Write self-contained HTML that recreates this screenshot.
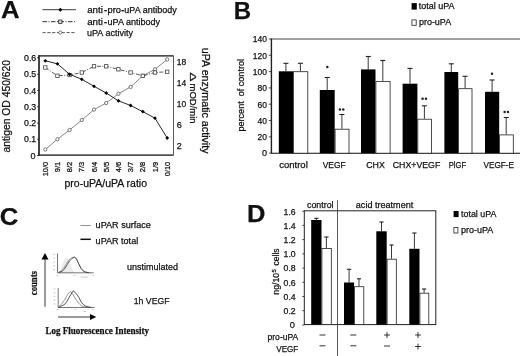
<!DOCTYPE html>
<html>
<head>
<meta charset="utf-8">
<title>Figure</title>
<style>
html,body{margin:0;padding:0;background:#fff;}
body{width:520px;height:356px;overflow:hidden;font-family:"Liberation Sans",sans-serif;}
svg{display:block;filter:blur(0.35px);}
svg text{font-family:"Liberation Sans",sans-serif;fill:#111;stroke:#111;stroke-width:0.25px;}
</style>
</head>
<body>
<svg width="520" height="356" viewBox="0 0 520 356">
<rect x="0" y="0" width="520" height="356" fill="#fff"/>
<!-- Panel A -->
<text x="1.0" y="18.3" font-size="24" textLength="18.6" lengthAdjust="spacingAndGlyphs" font-weight="bold" fill="#000">A</text>
<line x1="42.5" y1="9.7" x2="76" y2="9.7" stroke="#222" stroke-width="0.9"/>
<path d="M60.3 7.7 L62.3 9.7 L60.3 11.7 L58.3 9.7 Z" fill="#000"/>
<line x1="42.5" y1="21.7" x2="76" y2="21.7" stroke="#333" stroke-width="1" stroke-dasharray="4.5 1.5 1 1.5"/>
<rect x="58.6" y="20" width="3.4" height="3.4" fill="#ccc" stroke="#333" stroke-width="0.8"/>
<line x1="42.5" y1="32.6" x2="76" y2="32.6" stroke="#444" stroke-width="0.9" stroke-dasharray="3.2 1.6"/>
<circle cx="60.3" cy="32.6" r="1.6" fill="#fff" stroke="#444" stroke-width="0.7"/>
<text y="12.9" font-size="9.2"><tspan x="87.2" textLength="15.7" lengthAdjust="spacingAndGlyphs">anti</tspan><tspan x="104.1" font-weight="bold">-</tspan><tspan x="107.5" textLength="13.4" lengthAdjust="spacingAndGlyphs">pro</tspan><tspan x="121.2" font-weight="bold">-</tspan><tspan x="124.3" textLength="52.4" lengthAdjust="spacingAndGlyphs">uPA antibody</tspan></text>
<text y="24.6" font-size="9.2"><tspan x="87.2" textLength="15.7" lengthAdjust="spacingAndGlyphs">anti</tspan><tspan x="104.1" font-weight="bold">-</tspan><tspan x="107.5" textLength="52.6" lengthAdjust="spacingAndGlyphs">uPA antibody</tspan></text>
<text x="87" y="35.7" font-size="9.3" textLength="46" lengthAdjust="spacingAndGlyphs">uPA activity</text>
<rect x="39" y="55.9" width="134.4" height="99.19999999999999" fill="none" stroke="#333" stroke-width="0.8"/>
<line x1="39" y1="55.3" x2="39" y2="155.7" stroke="#222" stroke-width="1.5"/>
<line x1="38.1" y1="55.9" x2="173.4" y2="55.9" stroke="#222" stroke-width="1.0"/>
<line x1="38.1" y1="155.1" x2="173.4" y2="155.1" stroke="#222" stroke-width="1.0"/>
<line x1="37" y1="57.9" x2="39" y2="57.9" stroke="#222" stroke-width="0.8"/>
<text x="24.0" y="61.1" font-size="9" textLength="12.2" lengthAdjust="spacingAndGlyphs">0.6</text>
<line x1="37" y1="74.2" x2="39" y2="74.2" stroke="#222" stroke-width="0.8"/>
<text x="24.0" y="77.4" font-size="9" textLength="12.2" lengthAdjust="spacingAndGlyphs">0.5</text>
<line x1="37" y1="90.4" x2="39" y2="90.4" stroke="#222" stroke-width="0.8"/>
<text x="24.0" y="93.6" font-size="9" textLength="12.2" lengthAdjust="spacingAndGlyphs">0.4</text>
<line x1="37" y1="106.7" x2="39" y2="106.7" stroke="#222" stroke-width="0.8"/>
<text x="24.0" y="109.9" font-size="9" textLength="12.2" lengthAdjust="spacingAndGlyphs">0.3</text>
<line x1="37" y1="123.0" x2="39" y2="123.0" stroke="#222" stroke-width="0.8"/>
<text x="24.0" y="126.2" font-size="9" textLength="12.2" lengthAdjust="spacingAndGlyphs">0.2</text>
<line x1="37" y1="139.2" x2="39" y2="139.2" stroke="#222" stroke-width="0.8"/>
<text x="24.0" y="142.4" font-size="9" textLength="12.2" lengthAdjust="spacingAndGlyphs">0.1</text>
<line x1="37" y1="155.5" x2="39" y2="155.5" stroke="#222" stroke-width="0.8"/>
<text x="35.6" y="158.7" font-size="9" text-anchor="end">0</text>
<text x="176.8" y="65.3" font-size="9" textLength="9.4" lengthAdjust="spacingAndGlyphs">18</text>
<text x="176.8" y="86.3" font-size="9" textLength="9.4" lengthAdjust="spacingAndGlyphs">14</text>
<text x="176.8" y="107.3" font-size="9" textLength="9.4" lengthAdjust="spacingAndGlyphs">10</text>
<text x="176.8" y="128.2" font-size="9">6</text>
<text x="176.8" y="149.2" font-size="9">2</text>
<polyline fill="none" stroke="#555" stroke-width="0.7" points="45.3,149.5 57.4,139.2 69.6,130 81.8,120 94,109.6 106.2,103 118.4,93.8 130.6,86.9 142.8,75.8 155,69.3 167.2,59.5"/>
<circle cx="45.3" cy="149.5" r="1.65" fill="#fff" stroke="#444" stroke-width="0.7"/>
<circle cx="57.4" cy="139.2" r="1.65" fill="#fff" stroke="#444" stroke-width="0.7"/>
<circle cx="69.6" cy="130" r="1.65" fill="#fff" stroke="#444" stroke-width="0.7"/>
<circle cx="81.8" cy="120" r="1.65" fill="#fff" stroke="#444" stroke-width="0.7"/>
<circle cx="94" cy="109.6" r="1.65" fill="#fff" stroke="#444" stroke-width="0.7"/>
<circle cx="106.2" cy="103" r="1.65" fill="#fff" stroke="#444" stroke-width="0.7"/>
<circle cx="118.4" cy="93.8" r="1.65" fill="#fff" stroke="#444" stroke-width="0.7"/>
<circle cx="130.6" cy="86.9" r="1.65" fill="#fff" stroke="#444" stroke-width="0.7"/>
<circle cx="142.8" cy="75.8" r="1.65" fill="#fff" stroke="#444" stroke-width="0.7"/>
<circle cx="155" cy="69.3" r="1.65" fill="#fff" stroke="#444" stroke-width="0.7"/>
<circle cx="167.2" cy="59.5" r="1.65" fill="#fff" stroke="#444" stroke-width="0.7"/>
<polyline fill="none" stroke="#444" stroke-width="0.9" stroke-dasharray="4 1.5 1 1.5" points="45.3,67.5 57.4,75.8 69.6,75 81.8,72.5 94,66.3 106.2,66.3 118.4,69.3 130.6,72.5 142.8,75.8 155,72.5 167.2,71.8"/>
<rect x="43.6" y="65.8" width="3.4" height="3.4" fill="#fff" stroke="#444" stroke-width="0.8"/>
<rect x="55.7" y="74.1" width="3.4" height="3.4" fill="#fff" stroke="#444" stroke-width="0.8"/>
<rect x="67.9" y="73.3" width="3.4" height="3.4" fill="#fff" stroke="#444" stroke-width="0.8"/>
<rect x="80.1" y="70.8" width="3.4" height="3.4" fill="#fff" stroke="#444" stroke-width="0.8"/>
<rect x="92.3" y="64.6" width="3.4" height="3.4" fill="#fff" stroke="#444" stroke-width="0.8"/>
<rect x="104.5" y="64.6" width="3.4" height="3.4" fill="#fff" stroke="#444" stroke-width="0.8"/>
<rect x="116.7" y="67.6" width="3.4" height="3.4" fill="#fff" stroke="#444" stroke-width="0.8"/>
<rect x="128.9" y="70.8" width="3.4" height="3.4" fill="#fff" stroke="#444" stroke-width="0.8"/>
<rect x="141.1" y="74.1" width="3.4" height="3.4" fill="#fff" stroke="#444" stroke-width="0.8"/>
<rect x="153.3" y="70.8" width="3.4" height="3.4" fill="#fff" stroke="#444" stroke-width="0.8"/>
<rect x="165.5" y="70.1" width="3.4" height="3.4" fill="#fff" stroke="#444" stroke-width="0.8"/>
<polyline fill="none" stroke="#111" stroke-width="0.9" points="45.3,60.8 57.4,63.8 69.6,74.3 81.8,79.3 94,86.3 106.2,93 118.4,100.8 130.6,105.5 142.8,111.6 155,118.2 167.2,138"/>
<path d="M45.3 58.9 L47.2 60.8 L45.3 62.7 L43.4 60.8 Z" fill="#000"/>
<path d="M57.4 61.9 L59.3 63.8 L57.4 65.7 L55.5 63.8 Z" fill="#000"/>
<path d="M69.6 72.4 L71.5 74.3 L69.6 76.2 L67.7 74.3 Z" fill="#000"/>
<path d="M81.8 77.4 L83.7 79.3 L81.8 81.2 L79.9 79.3 Z" fill="#000"/>
<path d="M94 84.4 L95.9 86.3 L94 88.2 L92.1 86.3 Z" fill="#000"/>
<path d="M106.2 91.1 L108.1 93 L106.2 94.9 L104.3 93 Z" fill="#000"/>
<path d="M118.4 98.9 L120.3 100.8 L118.4 102.7 L116.5 100.8 Z" fill="#000"/>
<path d="M130.6 103.6 L132.5 105.5 L130.6 107.4 L128.7 105.5 Z" fill="#000"/>
<path d="M142.8 109.7 L144.7 111.6 L142.8 113.5 L140.9 111.6 Z" fill="#000"/>
<path d="M155 116.3 L156.9 118.2 L155 120.1 L153.1 118.2 Z" fill="#000"/>
<path d="M167.2 136.1 L169.1 138 L167.2 139.9 L165.3 138 Z" fill="#000"/>
<text x="47.9" y="161.8" font-size="7.5" text-anchor="end" textLength="14.5" lengthAdjust="spacingAndGlyphs" transform="rotate(-90 47.9 161.8)">10/0</text>
<text x="60.0" y="161.8" font-size="7.5" text-anchor="end" textLength="10.5" lengthAdjust="spacingAndGlyphs" transform="rotate(-90 60.0 161.8)">9/1</text>
<text x="72.2" y="161.8" font-size="7.5" text-anchor="end" textLength="10.5" lengthAdjust="spacingAndGlyphs" transform="rotate(-90 72.2 161.8)">8/2</text>
<text x="84.4" y="161.8" font-size="7.5" text-anchor="end" textLength="10.5" lengthAdjust="spacingAndGlyphs" transform="rotate(-90 84.4 161.8)">7/3</text>
<text x="96.6" y="161.8" font-size="7.5" text-anchor="end" textLength="10.5" lengthAdjust="spacingAndGlyphs" transform="rotate(-90 96.6 161.8)">6/4</text>
<text x="108.8" y="161.8" font-size="7.5" text-anchor="end" textLength="10.5" lengthAdjust="spacingAndGlyphs" transform="rotate(-90 108.8 161.8)">5/5</text>
<text x="121.0" y="161.8" font-size="7.5" text-anchor="end" textLength="10.5" lengthAdjust="spacingAndGlyphs" transform="rotate(-90 121.0 161.8)">4/6</text>
<text x="133.2" y="161.8" font-size="7.5" text-anchor="end" textLength="10.5" lengthAdjust="spacingAndGlyphs" transform="rotate(-90 133.2 161.8)">3/7</text>
<text x="145.4" y="161.8" font-size="7.5" text-anchor="end" textLength="10.5" lengthAdjust="spacingAndGlyphs" transform="rotate(-90 145.4 161.8)">2/8</text>
<text x="157.6" y="161.8" font-size="7.5" text-anchor="end" textLength="10.5" lengthAdjust="spacingAndGlyphs" transform="rotate(-90 157.6 161.8)">1/9</text>
<text x="169.8" y="161.8" font-size="7.5" text-anchor="end" textLength="14.5" lengthAdjust="spacingAndGlyphs" transform="rotate(-90 169.8 161.8)">0/10</text>
<text x="64.5" y="187.2" font-size="11" textLength="82.5" lengthAdjust="spacingAndGlyphs">pro-uPA/uPA ratio</text>
<text x="10.3" y="152.5" font-size="10.5" textLength="92.5" lengthAdjust="spacingAndGlyphs" transform="rotate(-90 10.3 152.5)">antigen OD 450/620</text>
<text x="202.4" y="47.8" font-size="11" textLength="105.8" lengthAdjust="spacingAndGlyphs" transform="rotate(90 202.4 47.8)">uPA enzymatic activity</text>
<text x="190.2" y="72.3" font-size="9.6" textLength="9.3" lengthAdjust="spacingAndGlyphs" transform="rotate(90 190.2 72.3)">&#916;</text>
<text x="190.2" y="83.5" font-size="9.6" textLength="40.1" lengthAdjust="spacingAndGlyphs" transform="rotate(90 190.2 83.5)">mOD/min</text>
<!-- Panel B -->
<text x="233.7" y="19.1" font-size="24" font-weight="bold" fill="#000">B</text>
<rect x="411.6" y="3.1" width="5.2" height="6.5" fill="#000"/>
<text x="418.8" y="9.3" font-size="9.7" textLength="35.8" lengthAdjust="spacingAndGlyphs">total uPA</text>
<rect x="411.9" y="19.9" width="4.3" height="5.4" fill="#fff" stroke="#222" stroke-width="0.8"/>
<text x="418.9" y="25.2" font-size="9.7" textLength="32.3" lengthAdjust="spacingAndGlyphs">pro-uPA</text>
<line x1="271.4" y1="39" x2="520" y2="39" stroke="#444" stroke-width="1"/>
<line x1="271.4" y1="153.2" x2="520" y2="153.2" stroke="#111" stroke-width="1.1"/>
<line x1="271.4" y1="38.5" x2="271.4" y2="153.7" stroke="#222" stroke-width="1.4"/>
<line x1="268.79999999999995" y1="39.0" x2="271.4" y2="39.0" stroke="#222" stroke-width="0.8"/>
<text x="266.9" y="42.3" font-size="9" text-anchor="end" textLength="14.1" lengthAdjust="spacingAndGlyphs">140</text>
<line x1="268.79999999999995" y1="55.3" x2="271.4" y2="55.3" stroke="#222" stroke-width="0.8"/>
<text x="266.9" y="58.6" font-size="9" text-anchor="end" textLength="14.1" lengthAdjust="spacingAndGlyphs">120</text>
<line x1="268.79999999999995" y1="71.6" x2="271.4" y2="71.6" stroke="#222" stroke-width="0.8"/>
<text x="266.9" y="74.9" font-size="9" text-anchor="end" textLength="14.1" lengthAdjust="spacingAndGlyphs">100</text>
<line x1="268.79999999999995" y1="87.9" x2="271.4" y2="87.9" stroke="#222" stroke-width="0.8"/>
<text x="266.9" y="91.2" font-size="9" text-anchor="end" textLength="9.4" lengthAdjust="spacingAndGlyphs">80</text>
<line x1="268.79999999999995" y1="104.2" x2="271.4" y2="104.2" stroke="#222" stroke-width="0.8"/>
<text x="266.9" y="107.5" font-size="9" text-anchor="end" textLength="9.4" lengthAdjust="spacingAndGlyphs">60</text>
<line x1="268.79999999999995" y1="120.5" x2="271.4" y2="120.5" stroke="#222" stroke-width="0.8"/>
<text x="266.9" y="123.8" font-size="9" text-anchor="end" textLength="9.4" lengthAdjust="spacingAndGlyphs">40</text>
<line x1="268.79999999999995" y1="136.8" x2="271.4" y2="136.8" stroke="#222" stroke-width="0.8"/>
<text x="266.9" y="140.1" font-size="9" text-anchor="end" textLength="9.4" lengthAdjust="spacingAndGlyphs">20</text>
<line x1="268.79999999999995" y1="153.1" x2="271.4" y2="153.1" stroke="#222" stroke-width="0.8"/>
<text x="266.9" y="156.4" font-size="9" text-anchor="end">0</text>
<text x="244.3" y="131.5" font-size="9" textLength="72.5" lengthAdjust="spacingAndGlyphs" transform="rotate(-90 244.3 131.5)">percent&#160; of control</text>
<line x1="285.9" y1="63.3" x2="285.9" y2="71.3" stroke="#222" stroke-width="0.9"/>
<line x1="283.4" y1="63.3" x2="288.4" y2="63.3" stroke="#222" stroke-width="1.1"/>
<rect x="278.8" y="71.3" width="14.2" height="81.9" fill="#000"/>
<line x1="300.4" y1="63.3" x2="300.4" y2="71.3" stroke="#222" stroke-width="0.9"/>
<line x1="297.9" y1="63.3" x2="302.9" y2="63.3" stroke="#222" stroke-width="1.1"/>
<rect x="293.4" y="71.7" width="14.4" height="81.5" fill="#fff" stroke="#222" stroke-width="0.8"/>
<line x1="327.2" y1="77.5" x2="327.2" y2="90" stroke="#222" stroke-width="0.9"/>
<line x1="324.8" y1="77.5" x2="329.8" y2="77.5" stroke="#222" stroke-width="1.1"/>
<rect x="319.8" y="90" width="14.9" height="63.2" fill="#000"/>
<line x1="341.9" y1="114.5" x2="341.9" y2="128.8" stroke="#222" stroke-width="0.9"/>
<line x1="339.4" y1="114.5" x2="344.4" y2="114.5" stroke="#222" stroke-width="1.1"/>
<rect x="335.09999999999997" y="129.20000000000002" width="13.9" height="24.0" fill="#fff" stroke="#222" stroke-width="0.8"/>
<line x1="368.2" y1="56.5" x2="368.2" y2="69.4" stroke="#222" stroke-width="0.9"/>
<line x1="365.8" y1="56.5" x2="370.8" y2="56.5" stroke="#222" stroke-width="1.1"/>
<rect x="361" y="69.4" width="14.5" height="83.8" fill="#000"/>
<line x1="382.8" y1="60.5" x2="382.8" y2="81" stroke="#222" stroke-width="0.9"/>
<line x1="380.3" y1="60.5" x2="385.3" y2="60.5" stroke="#222" stroke-width="1.1"/>
<rect x="375.9" y="81.4" width="14.2" height="71.8" fill="#fff" stroke="#222" stroke-width="0.8"/>
<line x1="410.0" y1="68.4" x2="410.0" y2="83.7" stroke="#222" stroke-width="0.9"/>
<line x1="407.5" y1="68.4" x2="412.5" y2="68.4" stroke="#222" stroke-width="1.1"/>
<rect x="402.6" y="83.7" width="14.8" height="69.5" fill="#000"/>
<line x1="424.4" y1="105.8" x2="424.4" y2="118.8" stroke="#222" stroke-width="0.9"/>
<line x1="421.9" y1="105.8" x2="426.9" y2="105.8" stroke="#222" stroke-width="1.1"/>
<rect x="417.79999999999995" y="119.2" width="13.6" height="34.0" fill="#fff" stroke="#222" stroke-width="0.8"/>
<line x1="451.3" y1="63.8" x2="451.3" y2="72" stroke="#222" stroke-width="0.9"/>
<line x1="448.8" y1="63.8" x2="453.8" y2="63.8" stroke="#222" stroke-width="1.1"/>
<rect x="444.4" y="72" width="13.8" height="81.2" fill="#000"/>
<line x1="465.1" y1="76.3" x2="465.1" y2="88.3" stroke="#222" stroke-width="0.9"/>
<line x1="462.6" y1="76.3" x2="467.6" y2="76.3" stroke="#222" stroke-width="1.1"/>
<rect x="458.59999999999997" y="88.7" width="13.4" height="64.5" fill="#fff" stroke="#222" stroke-width="0.8"/>
<line x1="492.1" y1="80" x2="492.1" y2="91.8" stroke="#222" stroke-width="0.9"/>
<line x1="489.6" y1="80" x2="494.6" y2="80" stroke="#222" stroke-width="1.1"/>
<rect x="485" y="91.8" width="14.2" height="61.4" fill="#000"/>
<line x1="506.2" y1="117.5" x2="506.2" y2="134.5" stroke="#222" stroke-width="0.9"/>
<line x1="503.8" y1="117.5" x2="508.8" y2="117.5" stroke="#222" stroke-width="1.1"/>
<rect x="499.59999999999997" y="134.9" width="13.7" height="18.3" fill="#fff" stroke="#222" stroke-width="0.8"/>
<circle cx="327.3" cy="67" r="1.25" fill="#222"/>
<circle cx="339.90000000000003" cy="109.5" r="1.25" fill="#222"/><circle cx="343.3" cy="109.5" r="1.25" fill="#222"/>
<circle cx="422.6" cy="98.8" r="1.25" fill="#222"/><circle cx="426.0" cy="98.8" r="1.25" fill="#222"/>
<circle cx="492" cy="73.8" r="1.25" fill="#222"/>
<circle cx="504.6" cy="112" r="1.25" fill="#222"/><circle cx="508.0" cy="112" r="1.25" fill="#222"/>
<text x="293.5" y="168.2" font-size="9.3" text-anchor="middle" textLength="28.5" lengthAdjust="spacingAndGlyphs">control</text>
<text x="334.2" y="168.2" font-size="9.3" text-anchor="middle" textLength="23" lengthAdjust="spacingAndGlyphs">VEGF</text>
<text x="375.5" y="168.2" font-size="9.3" text-anchor="middle" textLength="18.5" lengthAdjust="spacingAndGlyphs">CHX</text>
<text x="416.5" y="168.2" font-size="9.3" text-anchor="middle" textLength="47.5" lengthAdjust="spacingAndGlyphs">CHX+VEGF</text>
<text x="457.5" y="168.2" font-size="9.3" text-anchor="middle" textLength="17.5" lengthAdjust="spacingAndGlyphs">PlGF</text>
<text x="498.8" y="168.2" font-size="9.3" text-anchor="middle" textLength="30.5" lengthAdjust="spacingAndGlyphs">VEGF-E</text>
<!-- Panel C -->
<text x="-0.2" y="224.9" font-size="24.5" textLength="18.6" lengthAdjust="spacingAndGlyphs" font-weight="bold" fill="#000">C</text>
<line x1="80.4" y1="225.5" x2="90.8" y2="225.5" stroke="#888" stroke-width="0.9"/>
<text x="95.6" y="227.6" font-size="9.2" textLength="55.3" lengthAdjust="spacingAndGlyphs">uPAR surface</text>
<line x1="80.4" y1="239.3" x2="90.8" y2="239.3" stroke="#111" stroke-width="1.5"/>
<text x="95.6" y="243.7" font-size="9.2" textLength="42.6" lengthAdjust="spacingAndGlyphs">uPAR total</text>
<text x="127" y="270.2" font-size="9.3" textLength="51" lengthAdjust="spacingAndGlyphs">unstimulated</text>
<text x="133.8" y="303.8" font-size="9.3" textLength="35.7" lengthAdjust="spacingAndGlyphs">1h VEGF</text>
<line x1="45" y1="258" x2="45" y2="306.8" stroke="#222" stroke-width="0.9"/>
<path d="M45 252.9 L48.5 259.4 L41.5 259.4 Z" fill="#000"/>
<line x1="58" y1="317" x2="91" y2="317" stroke="#222" stroke-width="0.9"/>
<path d="M96.3 317 L90 320 L90 314 Z" fill="#000"/>
<text x="36.9" y="295.2" font-size="10.8" textLength="24.2" lengthAdjust="spacingAndGlyphs" style="font-family:&quot;Liberation Serif&quot;,serif" font-weight="bold" transform="rotate(-90 36.9 295.2)">counts</text>
<text x="45.4" y="333.5" font-size="10" textLength="103.6" lengthAdjust="spacingAndGlyphs" style="font-family:&quot;Liberation Serif&quot;,serif" font-weight="bold">Log Fluorescence Intensity</text>
<g stroke-linecap="round" stroke-linejoin="round" fill="none">
<path d="M59.6 272.6 L61.5 268 L64 261.5 L66.3 257.4 L68.5 260 L70.5 265 L72.5 270 L74.5 272.6 Z" stroke="#e2e2e2" stroke-width="0.5" fill="#ececec"/>
<path d="M57.5 253.8 V272.8 H93.3" stroke="#555" stroke-width="0.8"/>
<path d="M58.5 272.3 L61 271 L63.5 268.4 L66 264.2 L68.5 260.4 L71 258 L73.6 257 L75.5 257.8 L77.5 261 L79.5 265.2 L81.5 268.8 L84 271.5 L87 272.5 L91 272.7" stroke="#888" stroke-width="0.7" fill="none"/>
<path d="M59 272.5 L62 271.3 L64.5 269 L67 264.8 L69.5 261 L72 258.3 L74.5 257.1 L76.3 258.6 L78 262.4 L80.8 268.2 L83 270.8 L85 272 L88.5 272.6" stroke="#333" stroke-width="0.8" fill="none"/>
<line x1="80.8" y1="277" x2="87.5" y2="277" stroke="#aaa" stroke-width="0.6"/>
<line x1="53.3" y1="254.3" x2="54.8" y2="254.3" stroke="#bbb" stroke-width="0.7"/>
<line x1="53.3" y1="258.1" x2="54.8" y2="258.1" stroke="#bbb" stroke-width="0.7"/>
<line x1="53.3" y1="262" x2="54.8" y2="262" stroke="#bbb" stroke-width="0.7"/>
<line x1="53.3" y1="265.8" x2="54.8" y2="265.8" stroke="#bbb" stroke-width="0.7"/>
<line x1="53.3" y1="269.6" x2="54.8" y2="269.6" stroke="#bbb" stroke-width="0.7"/>
<line x1="56.5" y1="275.4" x2="57.900000000000006" y2="275.4" stroke="#bbb" stroke-width="0.7"/>
<line x1="73.8" y1="275.4" x2="75.2" y2="275.4" stroke="#bbb" stroke-width="0.7"/>
<line x1="92.1" y1="275.4" x2="93.5" y2="275.4" stroke="#bbb" stroke-width="0.7"/>
<path d="M58.2 288.3 V307.5 H94.2" stroke="#555" stroke-width="0.8"/>
<path d="M58.8 307 L59.6 306 L62 303.4 L64.4 300.3 L66.4 296.8 L68.3 293.5 L70.7 291.6 L72.3 293.6 L74 296.4 L76 299.5 L77.9 302.2 L79.8 304.4 L81.7 306 L84 306.9 L87 307.2" stroke="#666" stroke-width="0.7" fill="none"/>
<path d="M59 307.2 L60.6 306.5 L63 305.4 L65.4 303.6 L67.3 300.8 L69.2 297.4 L70.7 294.8 L72.1 292.6 L73.4 290.7 L74.6 292 L76 293.5 L77.4 295.3 L78.8 297.4 L80.3 300.2 L81.7 302.7 L83.6 304.8 L85.6 306 L88 306.9 L90.4 307.2" stroke="#222" stroke-width="0.8" fill="none"/>
<line x1="53.8" y1="288.8" x2="55.2" y2="288.8" stroke="#bbb" stroke-width="0.7"/>
<line x1="53.8" y1="292.6" x2="55.2" y2="292.6" stroke="#bbb" stroke-width="0.7"/>
<line x1="53.8" y1="296.4" x2="55.2" y2="296.4" stroke="#bbb" stroke-width="0.7"/>
<line x1="53.8" y1="300.2" x2="55.2" y2="300.2" stroke="#bbb" stroke-width="0.7"/>
<line x1="53.8" y1="304" x2="55.2" y2="304" stroke="#bbb" stroke-width="0.7"/>
<line x1="57.0" y1="309.5" x2="58.400000000000006" y2="309.5" stroke="#bbb" stroke-width="0.7"/>
<line x1="74.5" y1="309.5" x2="75.9" y2="309.5" stroke="#bbb" stroke-width="0.7"/>
<line x1="92.1" y1="309.5" x2="93.5" y2="309.5" stroke="#bbb" stroke-width="0.7"/>
<line x1="84" y1="311.3" x2="85.4" y2="311.3" stroke="#999" stroke-width="0.7"/>
</g>
<!-- Panel D -->
<text x="247.0" y="221.9" font-size="24" textLength="18.4" lengthAdjust="spacingAndGlyphs" font-weight="bold" fill="#000">D</text>
<rect x="304.3" y="210.8" width="131.5" height="113.8" fill="none" stroke="#222" stroke-width="1"/>
<line x1="337.5" y1="200.2" x2="337.5" y2="356" stroke="#333" stroke-width="0.8"/>
<line x1="302.3" y1="211.2" x2="304.3" y2="211.2" stroke="#222" stroke-width="0.8"/>
<text x="295.7" y="214.5" font-size="9.2" text-anchor="end" textLength="12.1" lengthAdjust="spacingAndGlyphs">1.6</text>
<line x1="302.3" y1="225.4" x2="304.3" y2="225.4" stroke="#222" stroke-width="0.8"/>
<text x="295.7" y="228.7" font-size="9.2" text-anchor="end" textLength="12.1" lengthAdjust="spacingAndGlyphs">1.4</text>
<line x1="302.3" y1="239.6" x2="304.3" y2="239.6" stroke="#222" stroke-width="0.8"/>
<text x="295.7" y="242.9" font-size="9.2" text-anchor="end" textLength="12.1" lengthAdjust="spacingAndGlyphs">1.2</text>
<line x1="302.3" y1="253.9" x2="304.3" y2="253.9" stroke="#222" stroke-width="0.8"/>
<text x="295.7" y="257.2" font-size="9.2" text-anchor="end" textLength="12.1" lengthAdjust="spacingAndGlyphs">1.0</text>
<line x1="302.3" y1="268.1" x2="304.3" y2="268.1" stroke="#222" stroke-width="0.8"/>
<text x="295.7" y="271.4" font-size="9.2" text-anchor="end" textLength="12.1" lengthAdjust="spacingAndGlyphs">0.8</text>
<line x1="302.3" y1="282.3" x2="304.3" y2="282.3" stroke="#222" stroke-width="0.8"/>
<text x="295.7" y="285.6" font-size="9.2" text-anchor="end" textLength="12.1" lengthAdjust="spacingAndGlyphs">0.6</text>
<line x1="302.3" y1="296.5" x2="304.3" y2="296.5" stroke="#222" stroke-width="0.8"/>
<text x="295.7" y="299.8" font-size="9.2" text-anchor="end" textLength="12.1" lengthAdjust="spacingAndGlyphs">0.4</text>
<line x1="302.3" y1="310.7" x2="304.3" y2="310.7" stroke="#222" stroke-width="0.8"/>
<text x="295.7" y="314.0" font-size="9.2" text-anchor="end" textLength="12.1" lengthAdjust="spacingAndGlyphs">0.2</text>
<line x1="302.3" y1="325.0" x2="304.3" y2="325.0" stroke="#222" stroke-width="0.8"/>
<text x="294.8" y="328.3" font-size="9.2" text-anchor="end">0</text>
<text x="307" y="208" font-size="9.3" textLength="26.5" lengthAdjust="spacingAndGlyphs">control</text>
<text x="355.8" y="208" font-size="9.3" textLength="57.5" lengthAdjust="spacingAndGlyphs">acid treatment</text>
<text x="278.6" y="294.7" font-size="9.3" textLength="21.8" lengthAdjust="spacingAndGlyphs" transform="rotate(-90 278.6 294.7)">ng/10</text>
<text x="275.6" y="272.6" font-size="6" transform="rotate(-90 275.6 272.6)">5</text>
<text x="278.6" y="265.4" font-size="9.3" textLength="17" lengthAdjust="spacingAndGlyphs" transform="rotate(-90 278.6 265.4)">cells</text>
<line x1="316.4" y1="218.3" x2="316.4" y2="220" stroke="#222" stroke-width="0.9"/>
<line x1="314.2" y1="218.3" x2="318.5" y2="218.3" stroke="#222" stroke-width="1.1"/>
<rect x="311.2" y="220" width="10.3" height="104.6" fill="#000"/>
<line x1="326.4" y1="237" x2="326.4" y2="248" stroke="#222" stroke-width="0.9"/>
<line x1="324.3" y1="237" x2="328.5" y2="237" stroke="#222" stroke-width="1.1"/>
<rect x="321.9" y="248.4" width="9.4" height="76.2" fill="#fff" stroke="#222" stroke-width="0.8"/>
<line x1="349.1" y1="269.3" x2="349.1" y2="282.5" stroke="#222" stroke-width="0.9"/>
<line x1="346.9" y1="269.3" x2="351.2" y2="269.3" stroke="#222" stroke-width="1.1"/>
<rect x="344" y="282.5" width="10.1" height="42.1" fill="#000"/>
<line x1="359.0" y1="278.8" x2="359.0" y2="286.3" stroke="#222" stroke-width="0.9"/>
<line x1="356.9" y1="278.8" x2="361.1" y2="278.8" stroke="#222" stroke-width="1.1"/>
<rect x="354.5" y="286.7" width="9.3" height="37.9" fill="#fff" stroke="#222" stroke-width="0.8"/>
<line x1="381.5" y1="222" x2="381.5" y2="231.3" stroke="#222" stroke-width="0.9"/>
<line x1="379.4" y1="222" x2="383.6" y2="222" stroke="#222" stroke-width="1.1"/>
<rect x="376.3" y="231.3" width="10.4" height="93.3" fill="#000"/>
<line x1="391.5" y1="245" x2="391.5" y2="258.8" stroke="#222" stroke-width="0.9"/>
<line x1="389.4" y1="245" x2="393.6" y2="245" stroke="#222" stroke-width="1.1"/>
<rect x="387.09999999999997" y="259.2" width="9.2" height="65.4" fill="#fff" stroke="#222" stroke-width="0.8"/>
<line x1="414.4" y1="233" x2="414.4" y2="248.8" stroke="#222" stroke-width="0.9"/>
<line x1="412.3" y1="233" x2="416.5" y2="233" stroke="#222" stroke-width="1.1"/>
<rect x="409.3" y="248.8" width="10.2" height="75.8" fill="#000"/>
<line x1="424.1" y1="289" x2="424.1" y2="292.8" stroke="#222" stroke-width="0.9"/>
<line x1="422.0" y1="289" x2="426.2" y2="289" stroke="#222" stroke-width="1.1"/>
<rect x="419.9" y="293.2" width="8.9" height="31.4" fill="#fff" stroke="#222" stroke-width="0.8"/>
<rect x="453.6" y="211" width="5" height="6.1" fill="#000"/>
<text x="461" y="217.2" font-size="9.6" textLength="35.4" lengthAdjust="spacingAndGlyphs">total uPA</text>
<rect x="453.9" y="227.5" width="4" height="5.5" fill="#fff" stroke="#222" stroke-width="0.8"/>
<text x="461" y="233.2" font-size="9.6" textLength="32.3" lengthAdjust="spacingAndGlyphs">pro-uPA</text>
<text x="267.5" y="339.6" font-size="9.3" textLength="30.8" lengthAdjust="spacingAndGlyphs">pro-uPA</text>
<text x="276.3" y="352.2" font-size="9.3" textLength="22" lengthAdjust="spacingAndGlyphs">VEGF</text>
<line x1="319.5" y1="335" x2="325.5" y2="335" stroke="#333" stroke-width="1"/>
<line x1="319.5" y1="345.8" x2="325.5" y2="345.8" stroke="#333" stroke-width="1"/>
<line x1="350.3" y1="335" x2="356.3" y2="335" stroke="#333" stroke-width="1"/>
<line x1="350.3" y1="345.8" x2="356.3" y2="345.8" stroke="#333" stroke-width="1"/>
<path d="M384.1 335 H389.9 M387 332.1 V337.9" stroke="#333" stroke-width="1" fill="none"/>
<line x1="384" y1="346" x2="390" y2="346" stroke="#333" stroke-width="1"/>
<path d="M415.1 335 H420.9 M418 332.1 V337.9" stroke="#333" stroke-width="1" fill="none"/>
<path d="M415.1 346.5 H420.9 M418 343.6 V349.4" stroke="#333" stroke-width="1" fill="none"/>
</svg>
</body>
</html>
